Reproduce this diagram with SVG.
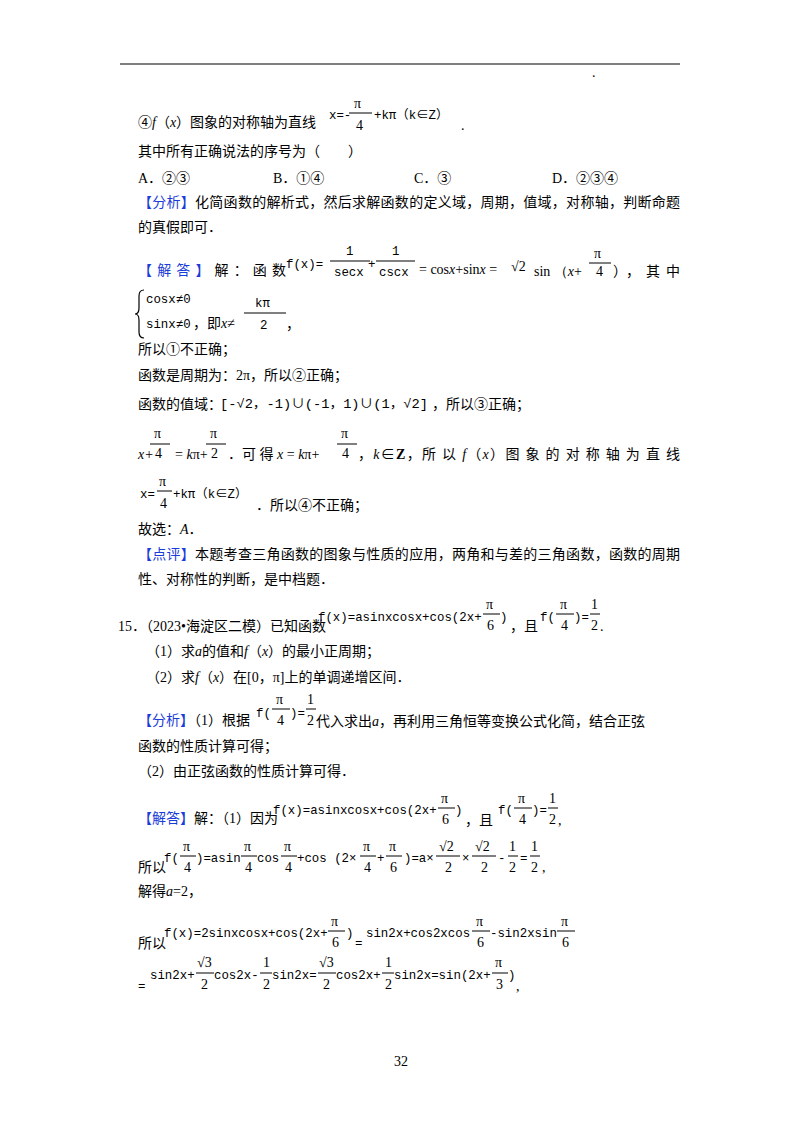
<svg xmlns="http://www.w3.org/2000/svg" width="800" height="1132" viewBox="0 0 800 1132">
<style>
text{font-family:"Liberation Serif","Noto Sans CJK SC",serif;font-size:14px;fill:#000}
.b{fill:#1a3cd8}
.m{font-family:"Liberation Mono","Noto Sans CJK SC",monospace;font-size:12.4px}
.s{font-family:"Liberation Serif",serif;font-size:14px}
.i{font-style:italic}
line{stroke:#000;stroke-width:1}
</style>
<rect width="800" height="1132" fill="#fff"/>
<line x1="120" y1="64" x2="680" y2="64"/>
<text x="592" y="77" font-size="6">.</text>

<text x="138" y="127">④<tspan class="i">f</tspan>（<tspan class="i">x</tspan>）图象的对称轴为直线</text>
<text class="m" x="329" y="119">x=-</text><line x1="349" y1="113" x2="372" y2="113"/>
<text class="s" x="354" y="108">π</text><text class="s" x="356" y="130">4</text>
<text class="m" x="374" y="119">+kπ（k∈Z）</text><text x="461" y="130">.</text>
<text x="138" y="156">其中所有正确说法的序号为（　　）</text>
<text x="138" y="183">A．②③</text><text x="273" y="183">B．①④</text><text x="414" y="183">C．③</text><text x="552" y="183">D．②③④</text>
<text x="138" y="207" textLength="542" lengthAdjust="spacing"><tspan class="b">【分析】</tspan>化简函数的解析式，然后求解函数的定义域，周期，值域，对称轴，判断命题</text>
<text x="138" y="232">的真假即可．</text>

<text x="138" y="275" textLength="148" lengthAdjust="spacing"><tspan class="b">【解答】</tspan>解：函数</text>
<text class="m" x="286" y="268">f(x)=</text>
<line x1="330" y1="261" x2="370" y2="261"/><text class="m" x="346" y="255">1</text><text class="m" x="334" y="276">secx</text>
<text class="m" x="368" y="268">+</text>
<line x1="376" y1="261" x2="415" y2="261"/><text class="m" x="392" y="255">1</text><text class="m" x="379" y="276">cscx</text>
<text class="s" x="419" y="274">= cos<tspan class="i">x</tspan>+sin<tspan class="i">x</tspan> = </text>
<text class="s" x="511" y="271" font-size="18">√2</text><text class="s" x="534" y="276">sin （<tspan class="i">x</tspan>+</text>
<line x1="589" y1="263" x2="611" y2="263"/><text class="s" x="594" y="258">π</text><text class="s" x="596" y="276">4</text>
<text x="613" y="276" textLength="67" lengthAdjust="spacing">），其中</text>

<path d="M144 290 Q139 290 139 296 L139 308 Q139 314 135 314 Q139 314 139 320 L139 332 Q139 338 144 338" fill="none" stroke="#000" stroke-width="1.2"/>
<text class="m" x="146" y="303">cosx≠0</text>
<text class="m" x="146" y="328">sinx≠0</text><text x="193" y="328">，即<tspan class="i">x</tspan>≠</text>
<line x1="244" y1="313" x2="286" y2="313"/><text class="m" x="255" y="307">kπ</text><text class="m" x="260" y="329">2</text>
<text x="286" y="329">，</text>

<text x="138" y="354">所以①不正确；</text>
<text x="138" y="380">函数是周期为：2π，所以②正确；</text>
<text x="138" y="409">函数的值域：</text>
<text class="m" x="220" y="408" font-size="15" textLength="208" lengthAdjust="spacingAndGlyphs">[-√2，-1)∪(-1，1)∪(1，√2]</text>
<text x="432" y="409">，所以③正确；</text>

<text class="s i" x="138" y="459">x+</text>
<line x1="150" y1="444" x2="170" y2="444"/><text class="s" x="154" y="438">π</text><text class="s" x="155" y="458">4</text>
<text class="s" x="175" y="459">= <tspan class="i">k</tspan>π+</text>
<line x1="206" y1="444" x2="226" y2="444"/><text class="s" x="210" y="438">π</text><text class="s" x="211" y="458">2</text>
<text x="228" y="459">．可 得 <tspan class="i">x</tspan> = <tspan class="i">k</tspan>π+</text>
<line x1="337" y1="444" x2="357" y2="444"/><text class="s" x="341" y="438">π</text><text class="s" x="342" y="458">4</text>
<text x="358" y="459" textLength="322" lengthAdjust="spacing">，<tspan class="i">k</tspan>∈<tspan font-weight="bold">Z</tspan>，所 以 <tspan class="i">f</tspan>（<tspan class="i">x</tspan>）图 象 的 对 称 轴 为 直 线</text>

<text class="m" x="140" y="498">x=</text><line x1="157" y1="491" x2="172" y2="491"/>
<text class="s" x="159" y="486">π</text><text class="s" x="160" y="508">4</text>
<text class="m" x="173" y="498">+kπ（k∈Z）</text>
<text x="256" y="510">．所以④不正确；</text>
<text x="138" y="534">故选：<tspan class="i">A</tspan>．</text>
<text x="138" y="559" textLength="542" lengthAdjust="spacing"><tspan class="b">【点评】</tspan>本题考查三角函数的图象与性质的应用，两角和与差的三角函数，函数的周期</text>
<text x="138" y="584">性、对称性的判断，是中档题．</text>

<text x="118" y="631">15．（2023•海淀区二模）已知函数</text>
<text class="m" x="318" y="621">f(x)=asinxcosx+cos(2x+</text>
<line x1="483" y1="614" x2="500" y2="614"/><text class="s" x="486" y="609">π</text><text class="s" x="487" y="630">6</text>
<text class="m" x="500" y="621">)</text><text x="510" y="631">，且</text>
<text class="m" x="540" y="621">f(</text><line x1="556" y1="614" x2="574" y2="614"/><text class="s" x="560" y="609">π</text><text class="s" x="561" y="630">4</text>
<text class="m" x="574" y="621">)=</text><line x1="590" y1="614" x2="600" y2="614"/><text class="s" x="591" y="609">1</text><text class="s" x="591" y="630">2</text>
<text x="600" y="631">.</text>
<text x="146" y="656">（1）求<tspan class="i">a</tspan>的值和<tspan class="i">f</tspan>（<tspan class="i">x</tspan>）的最小正周期；</text>
<text x="146" y="682">（2）求<tspan class="i">f</tspan>（<tspan class="i">x</tspan>）在[0，π]上的单调递增区间．</text>

<text x="138" y="725"><tspan class="b">【分析】</tspan>（1）根据</text>
<text class="m" x="256" y="717">f(</text><line x1="272" y1="709" x2="290" y2="709"/><text class="s" x="276" y="704">π</text><text class="s" x="277" y="725">4</text>
<text class="m" x="290" y="717">)=</text><line x1="306" y1="709" x2="316" y2="709"/><text class="s" x="307" y="704">1</text><text class="s" x="307" y="725">2</text>
<text x="316" y="726">代入求出<tspan class="i">a</tspan>，再利用三角恒等变换公式化简，结合正弦</text>
<text x="138" y="751">函数的性质计算可得；</text>
<text x="138" y="776">（2）由正弦函数的性质计算可得．</text>

<text x="138" y="823"><tspan class="b">【解答】</tspan>解：（1）因为</text>
<text class="m" x="273" y="814">f(x)=asinxcosx+cos(2x+</text>
<line x1="438" y1="808" x2="455" y2="808"/><text class="s" x="441" y="803">π</text><text class="s" x="442" y="824">6</text>
<text class="m" x="455" y="814">)</text><text x="465" y="825">，且</text>
<text class="m" x="498" y="814">f(</text><line x1="514" y1="808" x2="532" y2="808"/><text class="s" x="518" y="803">π</text><text class="s" x="519" y="824">4</text>
<text class="m" x="532" y="814">)=</text><line x1="548" y1="808" x2="558" y2="808"/><text class="s" x="549" y="803">1</text><text class="s" x="549" y="824">2</text>
<text x="558" y="825">,</text>

<text x="138" y="872">所以</text>
<text class="m" x="164" y="862">f(</text><line x1="180" y1="856" x2="196" y2="856"/><text class="s" x="183" y="851">π</text><text class="s" x="184" y="872">4</text>
<text class="m" x="196" y="862">)=asin</text><line x1="241" y1="856" x2="257" y2="856"/><text class="s" x="244" y="851">π</text><text class="s" x="245" y="872">4</text>
<text class="m" x="257" y="862">cos</text><line x1="281" y1="856" x2="297" y2="856"/><text class="s" x="284" y="851">π</text><text class="s" x="285" y="872">4</text>
<text class="m" x="297" y="862">+cos (2×</text><line x1="360" y1="856" x2="376" y2="856"/><text class="s" x="363" y="851">π</text><text class="s" x="364" y="872">4</text>
<text class="m" x="377" y="862">+</text><line x1="386" y1="856" x2="402" y2="856"/><text class="s" x="389" y="851">π</text><text class="s" x="390" y="872">6</text>
<text class="m" x="404" y="862">)=a×</text><line x1="436" y1="856" x2="460" y2="856"/><text class="s" x="439" y="851">√2</text><text class="s" x="445" y="872">2</text>
<text class="m" x="462" y="862">×</text><line x1="472" y1="856" x2="496" y2="856"/><text class="s" x="475" y="851">√2</text><text class="s" x="481" y="872">2</text>
<text class="m" x="498" y="862">-</text><line x1="508" y1="856" x2="518" y2="856"/><text class="s" x="509" y="851">1</text><text class="s" x="509" y="872">2</text>
<text class="m" x="520" y="862">=</text><line x1="530" y1="856" x2="540" y2="856"/><text class="s" x="531" y="851">1</text><text class="s" x="531" y="872">2</text>
<text x="542" y="872">,</text>
<text x="138" y="896">解得<tspan class="i">a</tspan>=2，</text>

<text x="138" y="948">所以</text>
<text class="m" x="164" y="937">f(x)=2sinxcosx+cos(2x+</text>
<line x1="328" y1="931" x2="345" y2="931"/><text class="s" x="331" y="926">π</text><text class="s" x="332" y="947">6</text>
<text class="m" x="346" y="937">)</text><text class="m" x="355" y="947">=</text>
<text class="m" x="366" y="937">sin2x+cos2xcos</text>
<line x1="472" y1="931" x2="490" y2="931"/><text class="s" x="476" y="926">π</text><text class="s" x="477" y="947">6</text>
<text class="m" x="490" y="937">-sin2xsin</text>
<line x1="557" y1="931" x2="575" y2="931"/><text class="s" x="561" y="926">π</text><text class="s" x="562" y="947">6</text>

<text class="m" x="138" y="990">=</text>
<text class="m" x="150" y="979">sin2x+</text><line x1="196" y1="973" x2="214" y2="973"/><text class="s" x="197" y="967">√3</text><text class="s" x="201" y="989">2</text>
<text class="m" x="214" y="979">cos2x-</text><line x1="260" y1="973" x2="272" y2="973"/><text class="s" x="263" y="967">1</text><text class="s" x="263" y="989">2</text>
<text class="m" x="272" y="979">sin2x=</text><line x1="318" y1="973" x2="336" y2="973"/><text class="s" x="319" y="967">√3</text><text class="s" x="323" y="989">2</text>
<text class="m" x="336" y="979">cos2x+</text><line x1="382" y1="973" x2="394" y2="973"/><text class="s" x="385" y="967">1</text><text class="s" x="385" y="989">2</text>
<text class="m" x="394" y="979">sin2x=sin(2x+</text><line x1="492" y1="973" x2="508" y2="973"/><text class="s" x="495" y="967">π</text><text class="s" x="496" y="989">3</text>
<text class="m" x="508" y="979">)</text><text x="516" y="991">,</text>

<text x="394" y="1066" font-size="12" font-family="Liberation Sans,sans-serif">32</text>
</svg>
